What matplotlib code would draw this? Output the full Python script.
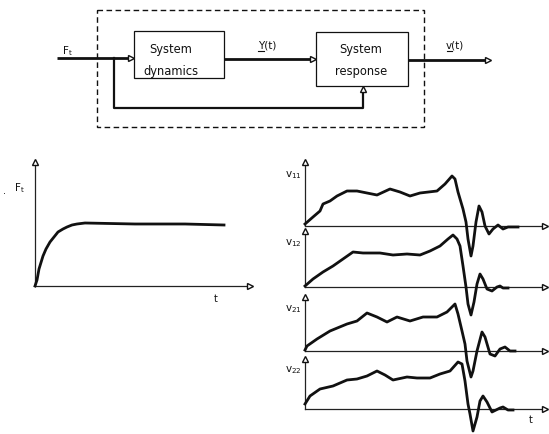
import matplotlib
matplotlib.use("Agg")
import matplotlib.pyplot as plt
from matplotlib.patches import Rectangle

plt.rcParams['font.family'] = ['DejaVu Sans']
plt.rcParams['mathtext.fontset'] = 'dejavusans'

W, H = 549, 435

# ---------------- data ----------------
# forcing function F_t : time, value
ft_t = [0, 2, 4, 8, 11, 15, 19, 23, 28, 32, 37, 42, 50, 100, 150, 189]
ft_v = [0, 6, 17, 30, 37, 44, 49, 54, 57, 59, 61, 62, 63, 62, 62, 61]

# responses v11, v12, v21, v22 : time, value
v11_t = [0, 8, 15, 18, 25, 32, 42, 52, 62, 72, 85, 95, 105, 115, 132, 140, 147, 150,
         153, 158, 161, 163, 166, 168, 171, 174, 177, 180, 184, 188, 193, 198, 203, 208, 213]
v11_v = [2, 9, 15, 22, 25, 30, 35, 35, 33, 31, 37, 34, 30, 33, 35, 42, 50, 47,
         34, 17, 4, -13, -30, -20, 4, 20, 14, 0, -8, -3, 1, -3, -1, -1, -1]

v12_t = [0, 8, 18, 28, 38, 48, 58, 75, 88, 102, 115, 125, 135, 143, 148, 152, 155,
         158, 161, 163, 166, 169, 172, 175, 178, 182, 187, 192, 195, 198, 203]
v12_v = [1, 8, 15, 21, 28, 35, 34, 34, 32, 33, 32, 36, 41, 48, 52, 48, 41,
         21, 0, -17, -28, -15, 3, 13, 8, -2, -4, 0, 1, -1, -1]

v21_t = [0, 2, 12, 25, 42, 52, 62, 72, 82, 92, 105, 118, 132, 142, 150, 153, 157,
         160, 162, 166, 168, 172, 177, 180, 185, 190, 195, 200, 205, 210]
v21_v = [1, 5, 12, 20, 27, 30, 38, 34, 29, 34, 30, 34, 34, 39, 47, 37, 20,
         7, -10, -26, -20, 0, 19, 14, -3, -5, 2, 4, 0, 0]

v22_t = [0, 5, 15, 28, 42, 52, 62, 72, 80, 88, 102, 112, 125, 135, 145, 153, 157,
         160, 163, 165, 168, 172, 175, 178, 182, 187, 195, 198, 203, 208]
v22_v = [5, 13, 20, 23, 29, 30, 33, 38, 34, 29, 32, 31, 31, 35, 38, 47, 45,
         28, 5, -5, -22, -8, 8, 13, 7, -3, 1, 2, -1, -1]

resp_labels = ['11', '12', '21', '22']
resp_t = [v11_t, v12_t, v21_t, v22_t]
resp_v = [v11_v, v12_v, v21_v, v22_v]

# ---------------- figure ----------------
fig = plt.figure(figsize=(W / 100, H / 100), dpi=100)
fig.patch.set_facecolor('white')

# block diagram canvas in pixel units
ax0 = fig.add_axes([0, 0, 1, 1])
ax0.set_xlim(0, W)
ax0.set_ylim(H, 0)
ax0.axis('off')

K = '#111111'
ax0.add_patch(Rectangle((97, 11), 327, 117, fill=False, ls=(0, (4, 2.5)), lw=1.0, ec=K))
ax0.add_patch(Rectangle((134, 32), 90, 47, fill=False, lw=0.9, ec=K))
ax0.add_patch(Rectangle((316, 33), 92, 54, fill=False, lw=0.9, ec=K))
ax0.text(171, 49, 'System', ha='center', va='center', fontsize=8.3, color=K)
ax0.text(171, 71, 'dynamics', ha='center', va='center', fontsize=8.3, color=K)
ax0.text(361, 50, 'System', ha='center', va='center', fontsize=8.3, color=K)
ax0.text(361, 72, 'response', ha='center', va='center', fontsize=8.3, color=K)

ax0.plot([57, 131], [59, 59], color=K, lw=2.0, solid_capstyle='butt')
ax0.plot([224, 313], [60, 60], color=K, lw=2.0, solid_capstyle='butt')
ax0.plot([408, 487], [61, 61], color=K, lw=2.0, solid_capstyle='butt')
ax0.plot([114, 114, 363, 363], [59, 109, 109, 91], color=K, lw=1.6)
for (x, y, m) in [(131, 59, '>'), (313, 60, '>'), (488, 61, '>'), (363, 90, '^')]:
    ax0.plot([x], [y], marker=m, ms=4.5, mfc='white', mec=K, mew=1.0)

ax0.text(67, 51, r'$\mathregular{F_t}$', ha='center', va='center', fontsize=7.5, color=K)
ax0.text(267, 45, 'Y(t)', ha='center', va='center', fontsize=7.5, color=K)
ax0.plot([258, 264], [52, 52], color=K, lw=0.8)
ax0.text(455, 45, 'v(t)', ha='center', va='center', fontsize=7.5, color=K)
ax0.plot([447, 452], [52, 52], color=K, lw=0.8)


def make_panel(ox, base, xspan, below, above):
    ax = fig.add_axes([ox / W, 1 - (base + below) / H, xspan / W, (below + above) / H])
    ax.set_xlim(0, xspan)
    ax.set_ylim(-below, above)
    ax.axis('off')
    ax.patch.set_alpha(0)
    return ax


def draw_axes(ax, xarrow, yarrow):
    ax.plot([0, xarrow - 3], [0, 0], color='#222222', lw=0.9, clip_on=False)
    ax.plot([0, 0], [0, yarrow - 3], color='#222222', lw=0.9, clip_on=False)
    ax.plot([xarrow], [0], marker='>', ms=5, mfc='white', mec=K, mew=1.0, clip_on=False)
    ax.plot([0], [yarrow], marker='^', ms=5, mfc='white', mec=K, mew=1.0, clip_on=False)


# F_t panel
axf = make_panel(35, 287, 230, 30, 140)
draw_axes(axf, 215, 124)
axf.plot(ft_t, ft_v, color=K, lw=2.0, solid_joinstyle='round', clip_on=False)
axf.text(-16, 99, r'$\mathregular{F_t}$', ha='center', va='center', fontsize=7.5, color=K)
axf.text(-30, 96, '.', ha='center', va='center', fontsize=7, color=K)
axf.text(181, -12, 't', ha='center', va='center', fontsize=7, color=K)

# response panels
bases = [227, 288, 352, 410]
yarrows = [64, 56, 54, 50]
lab_v = [52, 45, 43, 40]
for lab, t, v, b, ya, lv in zip(resp_labels, resp_t, resp_v, bases, yarrows, lab_v):
    ax = make_panel(305, b, 244, 30, 70)
    draw_axes(ax, 240, ya)
    ax.plot(t, v, color=K, lw=2.0, solid_joinstyle='round', clip_on=False)
    ax.text(-3, lv, r'$\mathregular{v_{%s}}$' % lab, ha='right', va='center', fontsize=7.5,
            color=K)
    if lab == '22':
        ax.text(226, -10, 't', ha='center', va='center', fontsize=7, color=K)

fig.savefig('out.png', dpi=100, facecolor='white')
